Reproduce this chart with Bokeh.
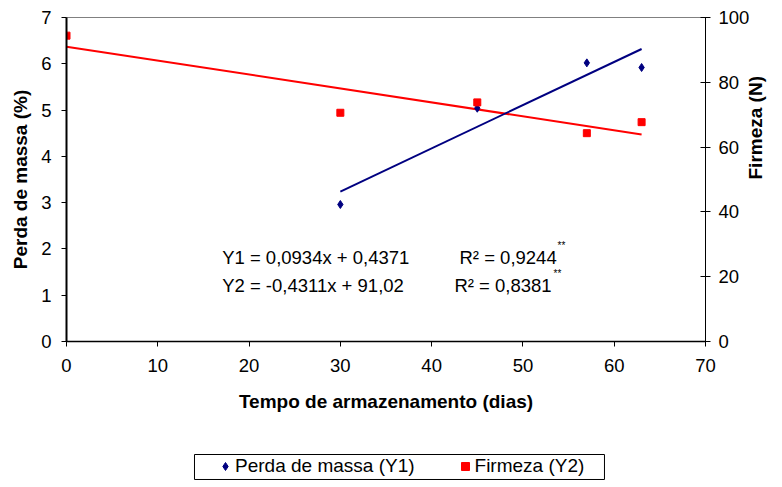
import math
from bokeh.plotting import figure
from bokeh.layouts import column
from bokeh.models import Range1d, LinearAxis, Legend, LegendItem, FixedTicker, BoxAnnotation
from bokeh.core.properties import value
from bokeh.embed import file_html
from bokeh.resources import INLINE

# --- data ---
days_y1 = [30, 45, 57, 63]
perda_massa = [2.96, 5.04, 6.02, 5.92]

days_y2 = [0, 30, 45, 57, 63]
firmeza = [94.4, 70.6, 73.8, 64.3, 67.7]

# fitted trend lines (end points)
trend_y1_x = [30, 63]
trend_y1_y = [3.24, 6.32]
trend_y2_x = [0, 63]
trend_y2_y = [91.0, 63.9]

eq_labels = ["Y1 = 0,0934x + 0,4371", "Y2 = -0,4311x + 91,02"]
r2_labels = ["R\u00b2 = 0,9244", "R\u00b2 = 0,8381"]
sig_labels = ["**", "**"]
legend_labels = ["Perda de massa (Y1)", "Firmeza (Y2)"]

x_ticks = [0, 10, 20, 30, 40, 50, 60, 70]
y1_ticks = [0, 1, 2, 3, 4, 5, 6, 7]
y2_ticks = [0, 20, 40, 60, 80, 100]

FONT = "Liberation Sans"
NAVY = "#000080"
RED = "#FF0000"
BORDER_L, BORDER_R = 66, 77

p = figure(width=782, height=430, output_backend="svg", toolbar_location=None,
           x_range=Range1d(0, 70), y_range=Range1d(0, 7),
           min_border_left=BORDER_L, min_border_right=BORDER_R, min_border_top=17, min_border_bottom=89)
p.extra_y_ranges = {"right": Range1d(0, 100)}

p.grid.visible = False
p.outline_line_color = "#808080"
p.outline_line_width = 1
p.background_fill_color = "white"
p.border_fill_color = "white"

# x axis
xa = p.xaxis[0]
xa.ticker = FixedTicker(ticks=x_ticks)
xa.axis_label = "Tempo de armazenamento (dias)"
xa.axis_line_width = 1.5
xa.axis_line_color = "black"
xa.major_tick_line_color = "black"
xa.major_tick_in = 0
xa.major_tick_out = 5
xa.minor_tick_line_color = None
xa.major_label_text_font = FONT
xa.major_label_text_font_size = "18.5px"
xa.major_label_text_color = "black"
xa.major_label_standoff = 12
xa.axis_label_text_font = FONT
xa.axis_label_text_font_size = "19px"
xa.axis_label_text_font_style = "bold"
xa.axis_label_text_color = "black"
xa.axis_label_standoff = 16

# left axis
ya = p.yaxis[0]
ya.ticker = FixedTicker(ticks=y1_ticks)
ya.axis_label = "Perda de massa (%)"
ya.axis_line_width = 2
ya.axis_line_color = "black"
ya.major_tick_line_color = "black"
ya.major_tick_in = 0
ya.major_tick_out = 5
ya.minor_tick_line_color = None
ya.major_label_text_font = FONT
ya.major_label_text_font_size = "18.5px"
ya.major_label_text_color = "black"
ya.major_label_standoff = 10
ya.axis_label_text_font = FONT
ya.axis_label_text_font_size = "19px"
ya.axis_label_text_font_style = "bold"
ya.axis_label_text_color = "black"
ya.axis_label_standoff = 7

# right axis
ra = LinearAxis(y_range_name="right", ticker=FixedTicker(ticks=y2_ticks), axis_label="Firmeza (N)")
ra.axis_line_width = 1
ra.axis_line_color = "black"
ra.major_tick_line_color = "black"
ra.major_tick_in = 5
ra.major_tick_out = 5
ra.minor_tick_line_color = None
ra.major_label_text_font = FONT
ra.major_label_text_font_size = "18.5px"
ra.major_label_text_color = "black"
ra.major_label_standoff = 8
ra.axis_label_text_font = FONT
ra.axis_label_text_font_size = "19px"
ra.axis_label_text_font_style = "bold"
ra.axis_label_text_color = "black"
ra.axis_label_standoff = 3
if "axis_label_orientation" in ra.properties():
    ra.axis_label_orientation = math.pi / 2
p.add_layout(ra, "right")

# trend lines
p.line(trend_y2_x, trend_y2_y, y_range_name="right", line_color=RED, line_width=2)
p.line(trend_y1_x, trend_y1_y, line_color=NAVY, line_width=2)

# points
p.scatter(days_y1, perda_massa, marker="diamond", size=8, fill_color=NAVY, line_color=NAVY)
p.scatter(days_y2, firmeza, y_range_name="right", marker="square", size=7,
          fill_color=RED, line_color=RED)

# equation annotations
eq_x = [17.05, 17.05]
eq_y = [1.82, 1.21]
r2_x = [43.05, 42.5]
sig_x = [53.8, 53.35]
sig_y = [2.07, 1.47]
p.text(eq_x, eq_y, text=eq_labels, text_font=value(FONT), text_font_size="18.5px",
       text_baseline="middle", text_align="left", text_color="black")
p.text(r2_x, eq_y, text=r2_labels, text_font=value(FONT), text_font_size="18.5px",
       text_baseline="middle", text_align="left", text_color="black")
p.text(sig_x, sig_y, text=sig_labels, text_font=value(FONT), text_font_size="10px",
       text_baseline="middle", text_align="left", text_color="black")

# legend strip below the chart (frames aligned with the chart)
lp = figure(width=782, height=57, output_backend="svg", toolbar_location=None,
            x_range=Range1d(0, 1), y_range=Range1d(0, 1),
            x_axis_location=None, y_axis_location=None,
            min_border_left=BORDER_L, min_border_right=BORDER_R, min_border_top=22, min_border_bottom=6)
lp.grid.visible = False
lp.outline_line_color = None
lp.background_fill_color = "white"
lp.border_fill_color = "white"
# same series drawn here only to give the legend its glyphs (they fall outside this strip's range)
leg_blue = lp.scatter(days_y1, perda_massa, marker="diamond", size=8, fill_color=NAVY, line_color=NAVY)
leg_red = lp.scatter(days_y2, firmeza, marker="square", size=7, fill_color=RED, line_color=RED)

lp.add_layout(BoxAnnotation(left=0.2003, right=0.8419, bottom=0.069, top=0.931,
                            fill_alpha=0, line_color="black", line_width=1, line_alpha=1))

legend = Legend(items=[LegendItem(label=legend_labels[0], renderers=[leg_blue]),
                       LegendItem(label=legend_labels[1], renderers=[leg_red])],
                orientation="horizontal", location=(149, 4))
legend.label_text_font = FONT
legend.label_text_font_size = "19px"
legend.label_text_color = "black"
legend.border_line_color = None
legend.background_fill_alpha = 0
legend.padding = 0
legend.margin = 0
legend.glyph_width = 20
legend.glyph_height = 20
legend.label_standoff = 0
legend.spacing = 40
legend.label_height = 20
lp.add_layout(legend, "center")

open("out.html", "w").write(file_html(column(p, lp, spacing=0), INLINE))
